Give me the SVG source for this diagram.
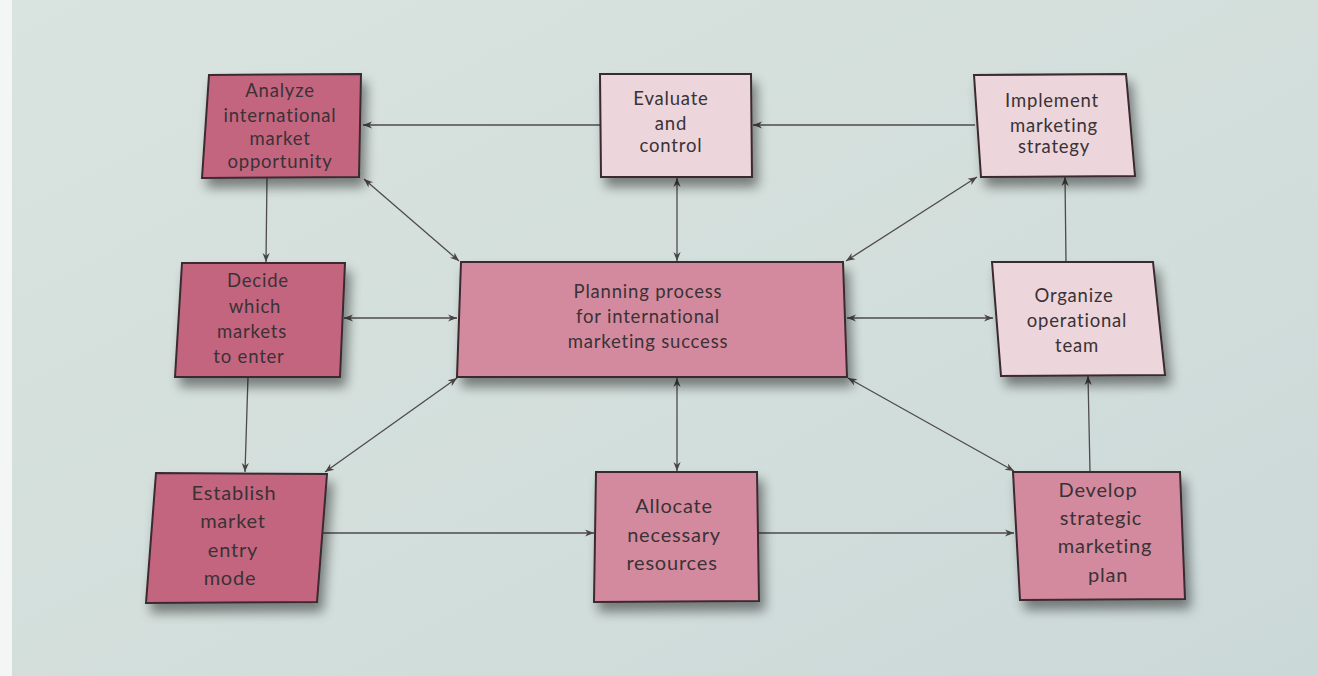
<svg xmlns="http://www.w3.org/2000/svg" width="1318" height="676" viewBox="0 0 1318 676">
<defs>
<linearGradient id="bg" x1="0" y1="0" x2="1" y2="1">
<stop offset="0" stop-color="#d9e3df"/>
<stop offset="0.6" stop-color="#d2dedb"/>
<stop offset="1" stop-color="#cbd8d8"/>
</linearGradient>
<filter id="sh" x="-20%" y="-20%" width="150%" height="160%">
<feGaussianBlur in="SourceAlpha" stdDeviation="6"/>
<feOffset dx="5" dy="9" result="b"/>
<feComponentTransfer><feFuncA type="linear" slope="0.45"/></feComponentTransfer>
<feMerge><feMergeNode/><feMergeNode in="SourceGraphic"/></feMerge>
</filter>
<marker id="ah" viewBox="0 0 10 10" refX="10" refY="5" markerWidth="9" markerHeight="9" markerUnits="userSpaceOnUse" orient="auto-start-reverse">
<path d="M0,1 L10,5 L0,9 L3,5 Z" fill="#4a4446"/>
</marker>
<style>
.box{stroke:#3b2a30;stroke-width:2;filter:url(#sh)}
.dark{fill:#c4657f}
.mid{fill:#d48a9e}
.light{fill:#ecd6dc}
.t{font-family:Lato,"Open Sans","Liberation Sans",sans-serif;font-size:18.5px;fill:#3a3236;text-anchor:middle;letter-spacing:0.8px}
.big{font-size:20px}
.c{stroke:#4f4a4c;stroke-width:1.3;fill:none}
.one{marker-end:url(#ah)}
.two{marker-start:url(#ah);marker-end:url(#ah)}
</style>
</defs>
<rect width="1318" height="676" fill="url(#bg)"/>
<rect x="0" y="0" width="12" height="676" fill="#f4f6f5"/>

<g id="connectors">
<line class="c one" x1="975" y1="125" x2="753" y2="125"/>
<line class="c one" x1="600" y1="125" x2="363" y2="125"/>
<line class="c one" x1="267" y1="177" x2="266" y2="262"/>
<line class="c one" x1="248" y1="377" x2="245" y2="472"/>
<line class="c one" x1="322" y1="533" x2="594" y2="533"/>
<line class="c one" x1="757" y1="533" x2="1014" y2="533"/>
<line class="c one" x1="1090" y1="472" x2="1088" y2="376"/>
<line class="c one" x1="1066" y1="262" x2="1065" y2="177"/>
<line class="c two" x1="364" y1="179" x2="459" y2="261"/>
<line class="c two" x1="677" y1="178" x2="677" y2="261"/>
<line class="c two" x1="977" y1="177" x2="846" y2="261"/>
<line class="c two" x1="344" y1="318" x2="457" y2="318"/>
<line class="c two" x1="847" y1="318" x2="993" y2="318"/>
<line class="c two" x1="325" y1="472" x2="457" y2="378"/>
<line class="c two" x1="677" y1="378" x2="677" y2="471"/>
<line class="c two" x1="848" y1="378" x2="1014" y2="471"/>
</g>

<g id="analyze">
<polygon class="box dark" points="209,75 361,74 359,177 202,178"/>
<text class="t" x="280" y="97">Analyze</text>
<text class="t" x="280" y="122">international</text>
<text class="t" x="280" y="145">market</text>
<text class="t" x="280" y="168">opportunity</text>
</g>

<g id="evaluate">
<polygon class="box light" points="600,74 751,74 752,177 601,177"/>
<text class="t" x="671" y="105">Evaluate</text>
<text class="t" x="671" y="130">and</text>
<text class="t" x="671" y="152">control</text>
</g>

<g id="implement">
<polygon class="box light" points="974,75 1126,74 1135,176 981,177"/>
<text class="t" x="1052" y="107">Implement</text>
<text class="t" x="1054" y="132">marketing</text>
<text class="t" x="1054" y="153">strategy</text>
</g>

<g id="decide">
<polygon class="box dark" points="182,263 345,263 340,377 175,377"/>
<text class="t" x="258" y="287">Decide</text>
<text class="t" x="255" y="313">which</text>
<text class="t" x="252" y="338">markets</text>
<text class="t" x="249" y="363">to enter</text>
</g>

<g id="planning">
<polygon class="box mid" points="461,262 843,262 847,377 457,377"/>
<text class="t" x="648" y="298">Planning process</text>
<text class="t" x="648" y="323">for international</text>
<text class="t" x="648" y="348">marketing success</text>
</g>

<g id="organize">
<polygon class="box light" points="992,262 1153,262 1165,375 1001,376"/>
<text class="t" x="1074" y="302">Organize</text>
<text class="t" x="1077" y="327">operational</text>
<text class="t" x="1077" y="352">team</text>
</g>

<g id="establish">
<polygon class="box dark" points="156,473 327,474 317,602 146,603"/>
<text class="t big" x="234" y="500">Establish</text>
<text class="t big" x="233" y="528">market</text>
<text class="t big" x="233" y="557">entry</text>
<text class="t big" x="230" y="585">mode</text>
</g>

<g id="allocate">
<polygon class="box mid" points="596,472 757,472 759,601 594,602"/>
<text class="t big" x="674" y="513">Allocate</text>
<text class="t big" x="674" y="542">necessary</text>
<text class="t big" x="672" y="570">resources</text>
</g>

<g id="develop">
<polygon class="box mid" points="1013,472 1180,472 1185,599 1020,600"/>
<text class="t big" x="1098" y="497">Develop</text>
<text class="t big" x="1101" y="525">strategic</text>
<text class="t big" x="1105" y="553">marketing</text>
<text class="t big" x="1108" y="582">plan</text>
</g>
</svg>
